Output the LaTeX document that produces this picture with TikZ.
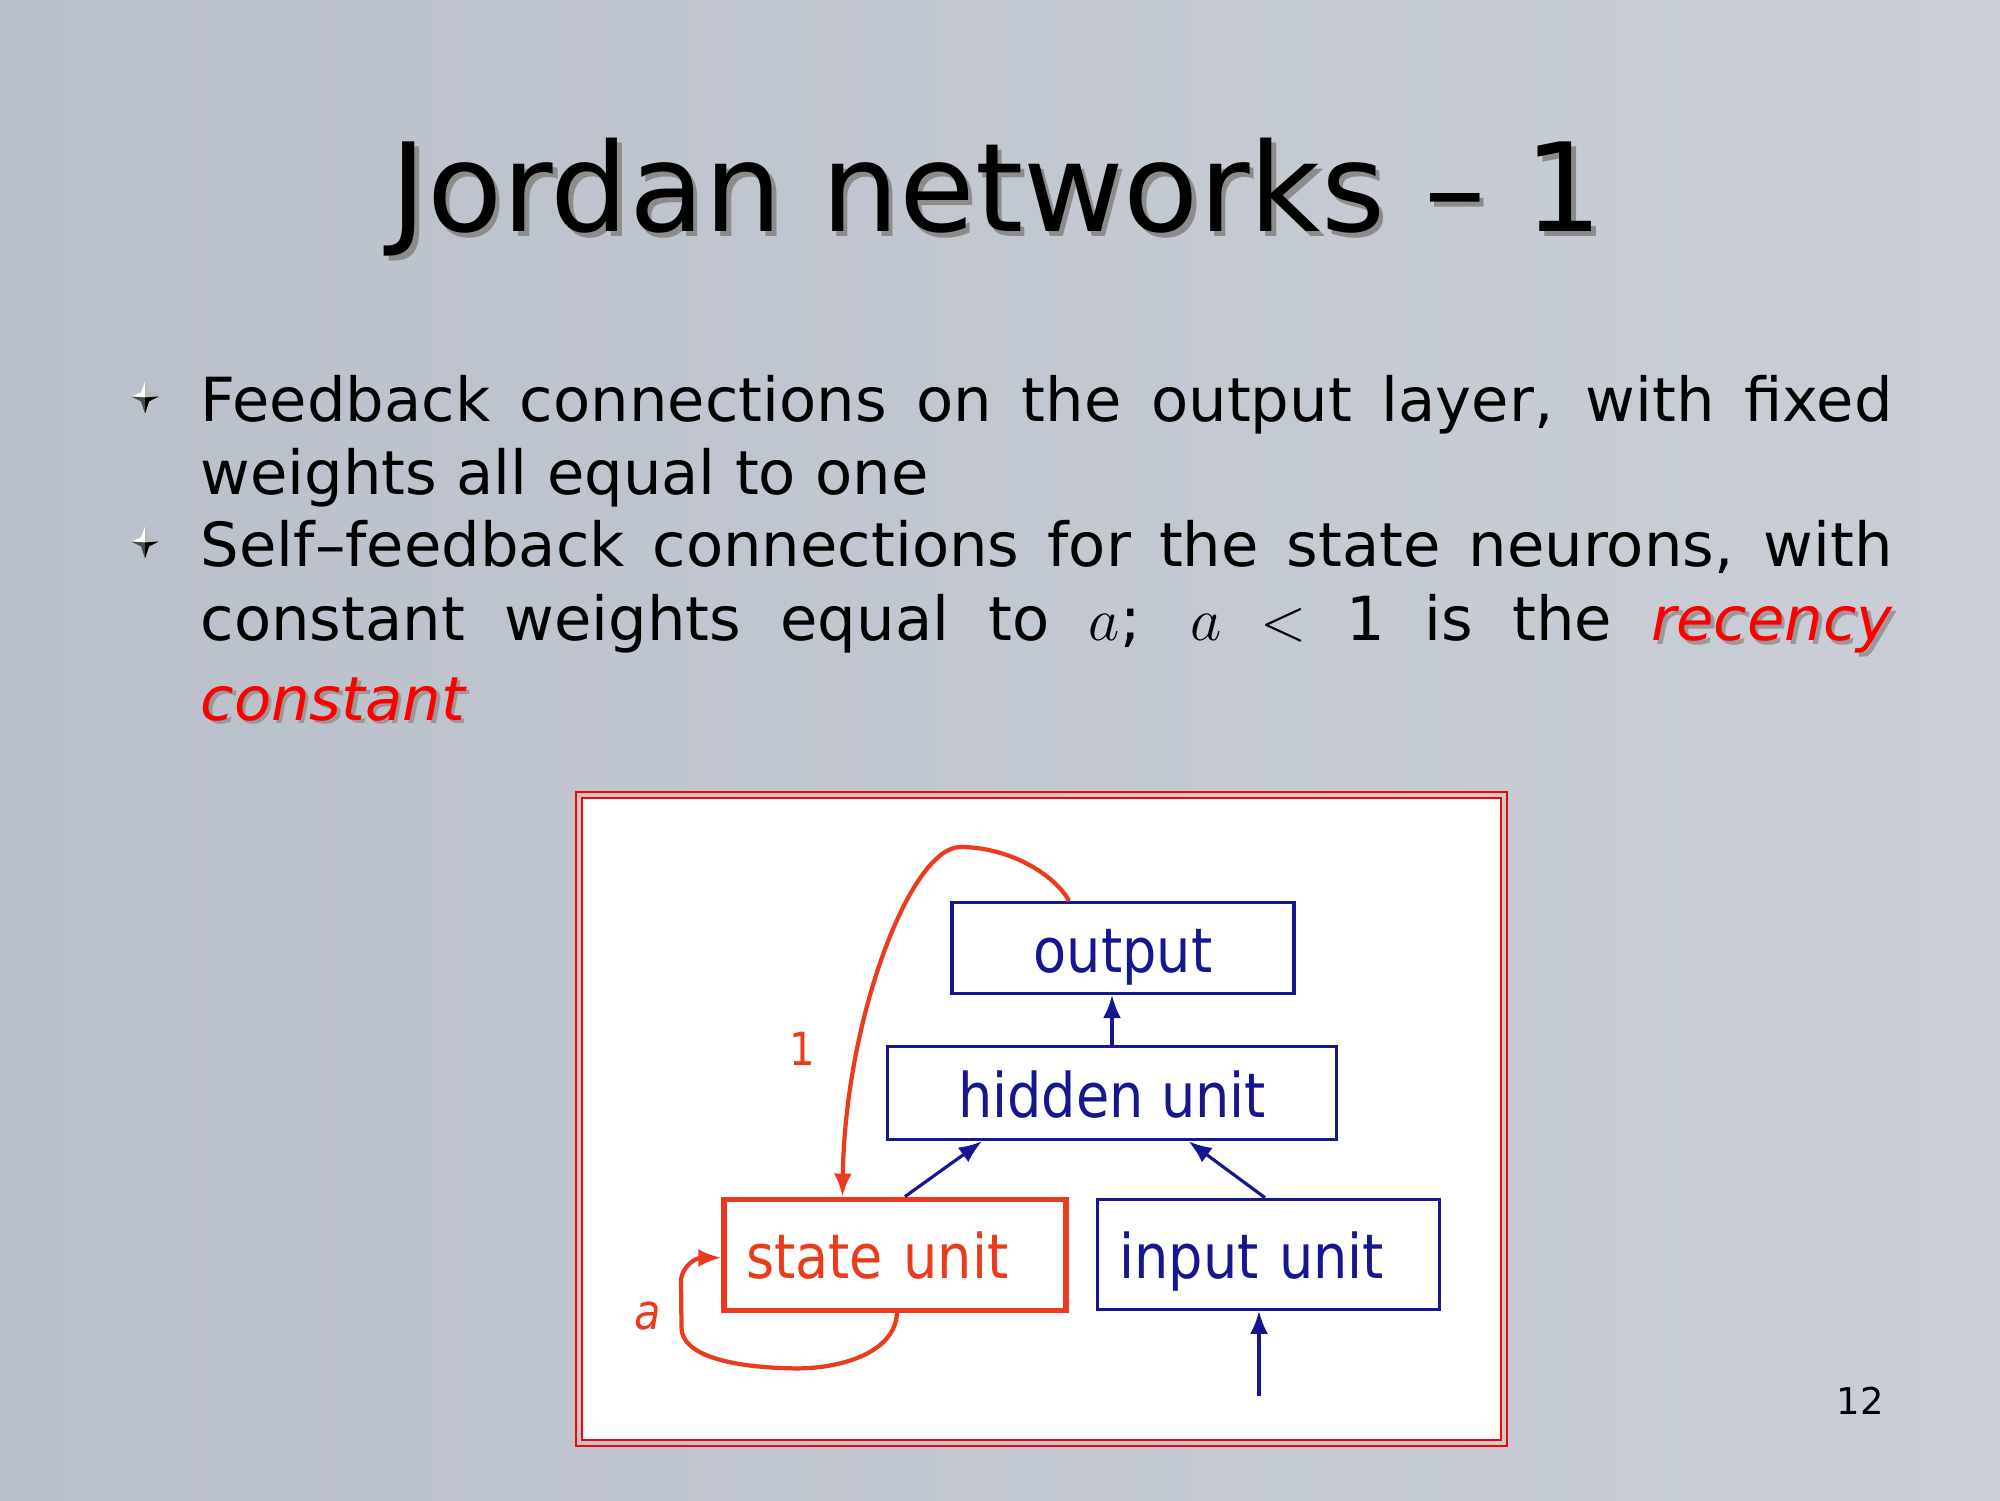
\documentclass[tikz,border=0pt]{standalone}
\usepackage{xcolor}
\usepackage{fontspec}
\setmainfont{DejaVu Sans}
\newfontfamily\diagfont{DejaVu Sans}[FakeStretch=0.88]
\usetikzlibrary{arrows.meta}

\definecolor{navy}{RGB}{22,22,145}
\definecolor{statered}{RGB}{236,58,28}
\definecolor{hotred}{RGB}{255,0,0}
\definecolor{slidebg}{RGB}{202,207,215}
\definecolor{slidebgdark}{RGB}{186,192,202}

% red italic word with a soft drop shadow
\newcommand{\redword}[1]{\rlap{\hspace{1pt}\raisebox{-1pt}{\color{black!40}\itshape #1}}{\color{hotred}\itshape #1}}

\begin{document}
\begin{tikzpicture}[>={Latex[length=0.23cm,width=0.18cm]},
				unitbox/.style={draw=navy, text=navy, line width=0.9pt, inner xsep=0.22cm, inner ysep=0.04cm,
					font=\diagfont\fontsize{17.5}{20}\selectfont, text height=0.6cm, text depth=0.12cm},
				link/.style={->, navy, line width=0.9pt},
				fback/.style={->, statered, line width=1.2pt},
				bodytext/.style={anchor=base west, inner sep=0pt, font=\fontsize{17.3}{20}\selectfont}]

				\useasboundingbox (0,0) rectangle (20,15);
				\shade[left color=slidebgdark, right color=slidebg] (0,0) rectangle (20,15);

				% title with shadow
				\node (shadow) at (10.015,12.635) [anchor=base, text=black!45, font=\fontsize{35}{40}\selectfont] {Jordan networks -- 1};
				\node (title) at (9.97,12.68) [anchor=base, font=\fontsize{35}{40}\selectfont] {Jordan networks -- 1};

				% bullets
				\foreach \y in {11.025,9.575} {
					\fill[white] (1.45,\y) -- (1.45,\y+0.16) -- (1.41,\y+0.05) -- (1.31,\y+0.01) -- cycle;
					\fill[gray!55] (1.45,\y) -- (1.45,\y+0.16) -- (1.49,\y+0.05) -- (1.59,\y+0.01) -- cycle;
					\fill[black!70] (1.45,\y) -- (1.31,\y+0.01) -- (1.41,\y-0.04) -- (1.45,\y-0.16) -- cycle;
					\fill[black] (1.45,\y) -- (1.59,\y+0.01) -- (1.49,\y-0.04) -- (1.45,\y-0.16) -- cycle;
				}

				\node (l1) [bodytext] at (2.0,10.78) {\makebox[16.92cm][s]{Feedback connections on the output layer, with fixed}};
				\node (l2) [bodytext] at (2.0,10.05) {weights all equal to one};
				\node (l3) [bodytext] at (2.0,9.33) {\makebox[16.92cm][s]{Self--feedback connections for the state neurons, with}};
				\node (l4) [bodytext] at (2.0,8.59) {\makebox[16.92cm][s]{constant weights equal to $a$; $a$ $<$ 1 is the \redword{recency}}};
				\node (l5) [bodytext] at (2.0,7.80) {\redword{constant}};

				% picture frame
				\draw[hotred, line width=0.7pt] (5.76,0.54) rectangle (15.07,7.08);
				\draw[hotred, line width=0.7pt, fill=white] (5.82,0.60) rectangle (15.01,7.02);

				\node (out) [unitbox, minimum width=3.42cm, minimum height=0.91cm] at (11.23,5.52) {output};
				\node (hid) [unitbox, minimum width=4.49cm, minimum height=0.93cm] at (11.12,4.067) {hidden unit};
				\node (st) [unitbox, draw=statered, text=statered, line width=1.5pt, text width=2.98cm, align=left, minimum height=1.11cm] at (8.95,2.453) {state unit};
				\node (inp) [unitbox, text width=2.98cm, align=left, minimum height=1.10cm] at (12.685,2.457) {input unit};
				\coordinate (src) at (12.59,1.04);

				\draw[link] (hid.north) -- (hid.north |- out.south);
				\draw[link] ([xshift=0.1cm]st.north) -- ([xshift=0.96cm]hid.south west);
				\draw[link] ([xshift=-0.035cm]inp.north) -- ([xshift=-1.494cm]hid.south east);
				\draw[link] (src) -- (src |- inp.south);

				\draw[fback] ([xshift=-0.54cm]out.north) .. controls (10.55,6.25) and (10.1,6.53) .. (9.60,6.53)
					.. controls (9.1,6.52) and (8.45,4.8) .. ([xshift=-0.525cm]st.north);
				\node (one) at (8.025,4.51) [text=statered, font=\diagfont\fontsize{13}{15}\selectfont] {1};

				\draw[fback] ([xshift=0.02cm]st.south) .. controls (8.95,1.45) and (8.35,1.30) .. (7.90,1.317)
					.. controls (7.3,1.33) and (6.82,1.45) .. (6.815,1.72) -- (6.81,2.2)
					.. controls (6.82,2.33) and (6.95,2.42) .. ([yshift=-0.03cm]st.west);
				\node (alpha) at (6.475,1.844) [text=statered, font=\diagfont\itshape\fontsize{14}{16}\selectfont] {a};

				\node (num) at (18.6,0.99) [font=\fontsize{10.5}{12}\selectfont] {12};
			\end{tikzpicture}
\end{document}
